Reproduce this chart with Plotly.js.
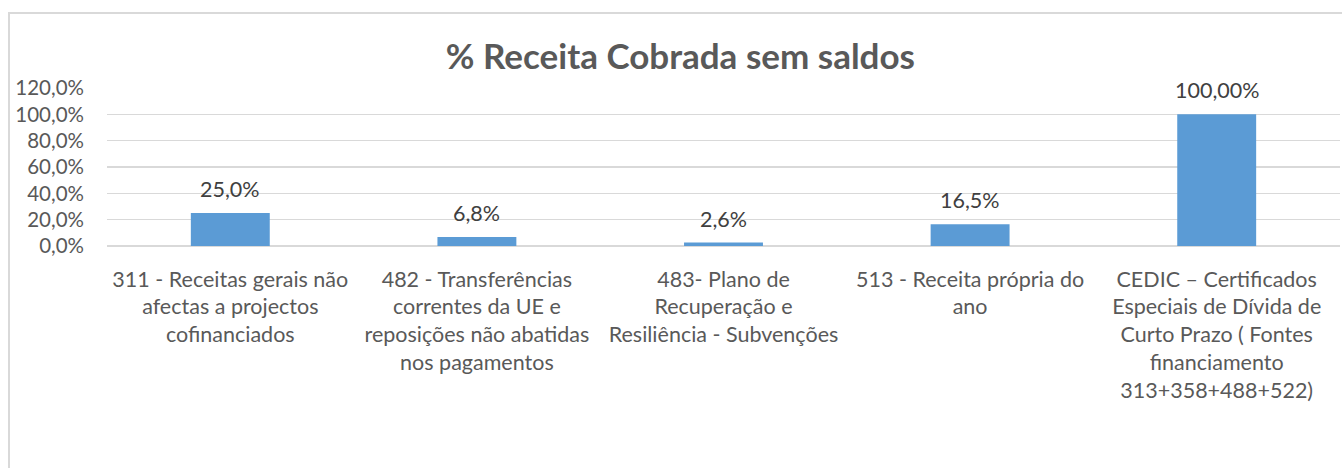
<!DOCTYPE html>
<html>
<head>
<meta charset="utf-8">
<script src="https://cdn.plot.ly/plotly-3.0.1.min.js"></script>
<style>
  html, body { margin: 0; padding: 0; background: #ffffff; }
  #frame { position: absolute; left: 8px; top: 12px; width: 1400px; height: 500px; border: 2px solid #d9d9d9; box-sizing: border-box; }
  #chart { position: absolute; left: 0; top: 0; width: 1342px; height: 468px; }
</style>
</head>
<body>
<div id="frame"></div>
<div id="chart"></div>
<script>
const categories = [
  "311 - Receitas gerais não<br>afectas a projectos<br>cofinanciados",
  "482 - Transferências<br>correntes da UE e<br>reposições não abatidas<br>nos pagamentos",
  "483- Plano de<br>Recuperação e<br>Resiliência - Subvenções",
  "513 - Receita própria do<br>ano",
  "CEDIC – Certificados<br>Especiais de Dívida de<br>Curto Prazo ( Fontes<br>financiamento<br>313+358+488+522)"
];
const values = [25.0, 6.8, 2.6, 16.5, 100.0];
const valueLabels = ["25,0%", "6,8%", "2,6%", "16,5%", "100,00%"];
const tickValues = [0, 20, 40, 60, 80, 100, 120];
const tickLabels = ["0,0%", "20,0%", "40,0%", "60,0%", "80,0%", "100,0%", "120,0%"];

const font = "Lato, 'Open Sans', sans-serif";

const annotations = categories.map((c, i) => ({
  x: c, y: values[i], xref: "x", yref: "y",
  text: valueLabels[i], showarrow: false,
  xanchor: "center", yanchor: "bottom", yshift: 9,
  font: { family: font, size: 21.5, color: "#404040" }
}));

Plotly.newPlot("chart", [{
  type: "bar",
  x: categories,
  y: values,
  marker: { color: "#5B9BD5" },
  hoverinfo: "none"
}], {
  width: 1342,
  height: 468,
  paper_bgcolor: "rgba(0,0,0,0)",
  plot_bgcolor: "rgba(0,0,0,0)",
  margin: { l: 107, r: 2, t: 88, b: 222 },
  bargap: 0.68,
  showlegend: false,
  annotations: annotations,
  title: {
    text: "<b>% Receita Cobrada sem saldos</b>",
    font: { family: font, size: 35, color: "#595959" },
    x: 0.507, xanchor: "center",
    y: 0.878, yanchor: "middle"
  },
  xaxis: {
    tickfont: { family: font, size: 21.5, color: "#595959" },
    showgrid: false,
    showline: false,
    ticks: "",
    automargin: false,
    tickangle: 0,
    ticklabelstandoff: 18
  },
  yaxis: {
    range: [0, 120],
    tickvals: tickValues,
    ticktext: tickLabels,
    tickfont: { family: font, size: 20.5, color: "#595959" },
    showgrid: true,
    gridcolor: "#d9d9d9",
    gridwidth: 1.5,
    zeroline: true,
    zerolinecolor: "#d9d9d9",
    zerolinewidth: 1.5,
    showline: false,
    ticks: "",
    ticklabelstandoff: 22,
    automargin: false
  }
}, { displayModeBar: false, staticPlot: true });
</script>
</body>
</html>
